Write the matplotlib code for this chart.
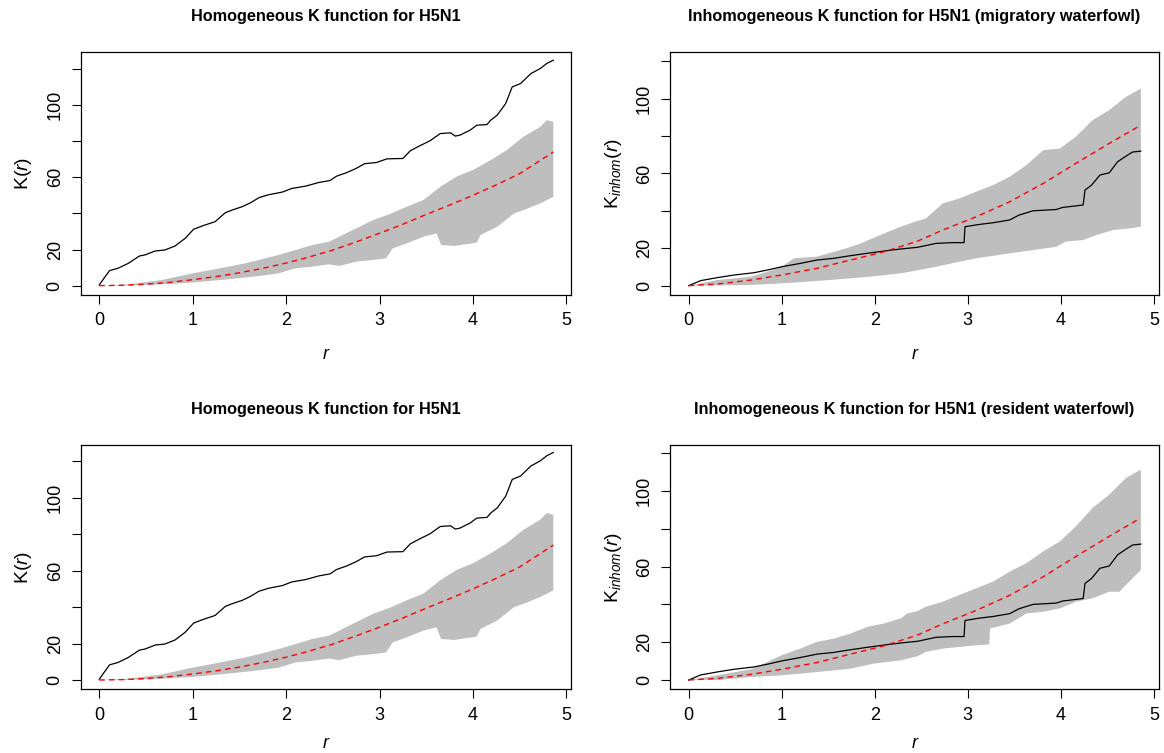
import numpy as np
import matplotlib
matplotlib.use("Agg")
import matplotlib.pyplot as plt

plt.rcParams['font.family'] = ['Liberation Sans', 'DejaVu Sans']
plt.rcParams['mathtext.fontset'] = 'custom'
plt.rcParams['mathtext.rm'] = 'Liberation Sans'
plt.rcParams['mathtext.it'] = 'Liberation Sans:italic'

# --- homogeneous K (both left panels) -------------
hom_r_obs = [0, 0.11, 0.2, 0.31, 0.43, 0.49, 0.6, 0.7, 0.81, 0.92, 1.01, 1.11, 1.24,
             1.35, 1.42, 1.53, 1.62, 1.71, 1.81, 1.96, 2.06, 2.21, 2.35, 2.47, 2.54,
             2.645, 2.75, 2.84, 2.97, 3.08, 3.25, 3.33, 3.43, 3.54, 3.65, 3.76, 3.81,
             3.86, 3.97, 4.04, 4.15, 4.19, 4.26, 4.35, 4.42, 4.51, 4.62, 4.72, 4.79, 4.86]
hom_k_obs = [0.4, 8.3, 9.6, 12.3, 16.4, 17, 19.2, 19.7, 21.9, 26.2, 31.2, 33.2, 35.4,
             40.4, 41.8, 43.7, 45.9, 48.7, 50.3, 51.8, 53.8, 55.1, 57.1, 58.2, 60.6,
             62.5, 64.9, 67.5, 68.2, 70.2, 70.4, 74.7, 77.4, 80.2, 84.2, 84.6, 82.8,
             83.3, 86.1, 88.8, 89.2, 91.6, 94.4, 100.8, 110, 111.9, 117.4, 120.2, 123, 124.8]

hom_r_theo = [0, 0.25, 0.5, 0.75, 1, 1.25, 1.5, 1.75, 2, 2.25, 2.5, 2.75, 3, 3.25,
              3.5, 3.75, 4, 4.25, 4.5, 4.86]
hom_k_theo = [0, 0.2, 0.8, 1.8, 3.3, 5, 7.1, 9.6, 12.5, 15.9, 19.7, 24.2, 29, 34,
              39.4, 44.6, 50, 55.8, 62, 74]

hom_r_hi = [0, 0.31, 0.67, 1.0, 1.2, 1.38, 1.56, 1.74, 1.92, 2.1, 2.28, 2.46, 2.57,
            2.75, 2.93, 3.11, 3.29, 3.47, 3.65, 3.83, 4.0, 4.19, 4.36, 4.54, 4.72, 4.79, 4.86]
hom_k_hi = [0, 0.7, 3.1, 6.8, 8.7, 10.5, 12.3, 14.6, 17, 19.7, 22.5, 24.3, 27.1,
            31.7, 36.3, 39.6, 43.7, 47.4, 54.7, 60.5, 64, 69.5, 75, 82.4, 87.9, 91.6, 90.7]
hom_r_lo = [0, 0.31, 0.67, 1.0, 1.38, 1.74, 1.92, 2.1, 2.28, 2.46, 2.57, 2.75, 2.93,
            3.07, 3.14, 3.29, 3.47, 3.61, 3.66, 3.8, 4.04, 4.08, 4.26, 4.44, 4.54, 4.72, 4.86]
hom_k_lo = [0, 0, 0.7, 1.7, 3.5, 5.5, 6.8, 9.6, 10.5, 11.8, 10.9, 13.3, 14.2,
            15.1, 20.6, 23.4, 27.1, 28.9, 22.5, 22, 23.8, 28, 32.6, 40, 41.8, 45.5, 49.2]

# --- inhomogeneous K (both right panels) ----------
inh_r_obs = [0, 0.13, 0.31, 0.49, 0.7, 0.85, 1.0, 1.2, 1.38, 1.56, 1.71, 1.92, 2.1,
             2.28, 2.46, 2.66, 2.84, 2.96, 2.97, 3.12, 3.27, 3.45, 3.55, 3.70, 3.95,
             4.02, 4.24, 4.26, 4.33, 4.42, 4.52, 4.61, 4.70, 4.77, 4.86]
inh_k_obs = [0, 2.7, 4.3, 5.7, 6.9, 8.4, 10.1, 11.9, 13.7, 14.6, 15.8, 17.3, 18.5,
             19.6, 20.5, 22.6, 23, 23, 31.5, 32.7, 33.6, 35.1, 37.7, 40, 40.7,
             41.8, 43.1, 51.1, 53.7, 59.1, 60.3, 66.2, 69.2, 71.4, 71.9]

inh_r_theo = [0, 0.31, 0.67, 1.0, 1.38, 1.74, 2.1, 2.46, 2.73, 3.09, 3.45, 3.81,
              4.16, 4.52, 4.85]
inh_k_theo = [0, 0.9, 3, 5.7, 9.3, 13.7, 18.1, 23.8, 29.7, 36.8, 44.8, 54.6,
              65.3, 76, 85.5]

# migratory waterfowl envelope
mig_r_hi = [0, 0.31, 0.67, 0.85, 1.0, 1.13, 1.38, 1.69, 1.85, 2.1, 2.28, 2.46, 2.55,
            2.73, 2.91, 3.09, 3.27, 3.45, 3.63, 3.81, 3.99, 4.16, 4.34, 4.52, 4.70, 4.86]
mig_k_hi = [0, 3, 4.8, 7.5, 10.1, 14.6, 15.5, 19.9, 22.6, 27.9, 31.5, 34.6, 35.9,
            43.9, 46.6, 50.2, 53.7, 58.2, 64.4, 72.4, 73.3, 79.5, 88.4, 93.8, 100.9, 105.3]
mig_r_lo = [0, 0.13, 0.67, 1.0, 1.38, 1.74, 2.03, 2.28, 2.46, 2.66, 2.91, 3.09, 3.45,
            3.70, 3.95, 4.05, 4.24, 4.38, 4.56, 4.74, 4.86]
mig_k_lo = [0, 0, 0.4, 1.2, 2.5, 3.9, 5.2, 6.6, 8.2, 10.1, 12.8, 14.6, 17.3,
            19, 20.8, 23.5, 24.4, 27, 29.7, 30.6, 31.5]

# resident waterfowl envelope
res_r_hi = [0, 0.31, 0.67, 0.85, 1.0, 1.2, 1.38, 1.56, 1.74, 1.92, 2.1, 2.28, 2.35,
            2.46, 2.55, 2.73, 2.91, 3.09, 3.27, 3.45, 3.63, 3.81, 3.99, 4.16, 4.34,
            4.52, 4.70, 4.86]
res_k_hi = [0, 2.5, 5.7, 9.6, 13.1, 16.6, 20.2, 21.9, 24.6, 28.1, 29.9, 32.6, 35.2,
            36.5, 38.8, 41.4, 45, 48.5, 52, 57.3, 61.8, 68, 73.3, 81.2, 91,
            98, 106.9, 111.3]
res_r_lo = [0, 0.31, 0.67, 1.0, 1.38, 1.74, 1.99, 2.28, 2.46, 2.55, 2.73, 2.91, 3.09,
            3.23, 3.24, 3.45, 3.63, 3.81, 3.99, 4.16, 4.34, 4.52, 4.63, 4.70, 4.86]
res_k_lo = [0, 0, 1.6, 2.5, 4.2, 6, 8.7, 10.4, 12.6, 14.9, 16.6, 17.5, 18.4,
            18.8, 27.3, 29.9, 35.2, 36.1, 37.9, 41.4, 43.2, 46.7, 46.7, 50.3, 58.2]

titles = ["Homogeneous K function for H5N1",
          "Inhomogeneous K function for H5N1 (migratory waterfowl)",
          "Homogeneous K function for H5N1",
          "Inhomogeneous K function for H5N1 (resident waterfowl)"]
ylabels = [r"$\mathrm{K}(r)$", r"$\mathrm{K}_{inhom}(r)$",
           r"$\mathrm{K}(r)$", r"$\mathrm{K}_{inhom}(r)$"]
yticks = [0, 20, 40, 60, 80, 100, 120]
ytick_labels = ["0", "20", "", "60", "", "100", ""]
xticks = [0, 1, 2, 3, 4, 5]

panels = [
    (hom_r_obs, hom_k_obs, hom_r_theo, hom_k_theo, hom_r_hi, hom_k_hi, hom_r_lo, hom_k_lo),
    (inh_r_obs, inh_k_obs, inh_r_theo, inh_k_theo, mig_r_hi, mig_k_hi, mig_r_lo, mig_k_lo),
    (hom_r_obs, hom_k_obs, hom_r_theo, hom_k_theo, hom_r_hi, hom_k_hi, hom_r_lo, hom_k_lo),
    (inh_r_obs, inh_k_obs, inh_r_theo, inh_k_theo, res_r_hi, res_k_hi, res_r_lo, res_k_lo),
]

rects = [[0.0696, 0.6082, 0.421, 0.3231],
         [0.576, 0.6082, 0.4193, 0.3231],
         [0.0696, 0.0846, 0.421, 0.3244],
         [0.576, 0.0846, 0.4193, 0.3244]]
ylims = [(-5.2, 129.5), (-5.0, 125.0), (-5.1, 128.9), (-4.9, 124.3)]

fig = plt.figure(figsize=(11.64, 7.53), dpi=100)

for i, (ro, ko, rt, kt, rh, kh, rl, kl) in enumerate(panels):
    ax = fig.add_axes(rects[i])
    # envelope polygon: upper edge then lower edge reversed
    ax.fill(np.concatenate([rh, rl[::-1]]), np.concatenate([kh, kl[::-1]]),
            color="#BEBEBE", lw=0)
    ax.plot(ro, ko, color="black", lw=0.9)
    ax.plot(rt, kt, color="red", lw=1.0, ls=(0, (4, 3)))

    ax.set_xlim(-0.195, 5.05)
    ax.set_ylim(*ylims[i])
    ax.set_xticks(xticks)
    ax.set_yticks(yticks)
    ax.set_yticklabels(ytick_labels)
    for lab in ax.get_yticklabels():
        lab.set_rotation(90)
        lab.set_va("center")
        lab.set_ha("right")
    ax.tick_params(direction="out", length=6.5, width=0.8, labelsize=13, pad=6)
    for sp in ax.spines.values():
        sp.set_linewidth(0.9)
    ax.set_title(titles[i], fontsize=11.7, fontweight="bold", pad=22)
    bottom_row = i >= 2
    ax.set_xlabel("r", fontsize=13, fontstyle="italic", labelpad=8 if bottom_row else 12)
    ax.set_ylabel(ylabels[i], fontsize=14, labelpad=9)

fig.savefig("out.png", dpi=100)
